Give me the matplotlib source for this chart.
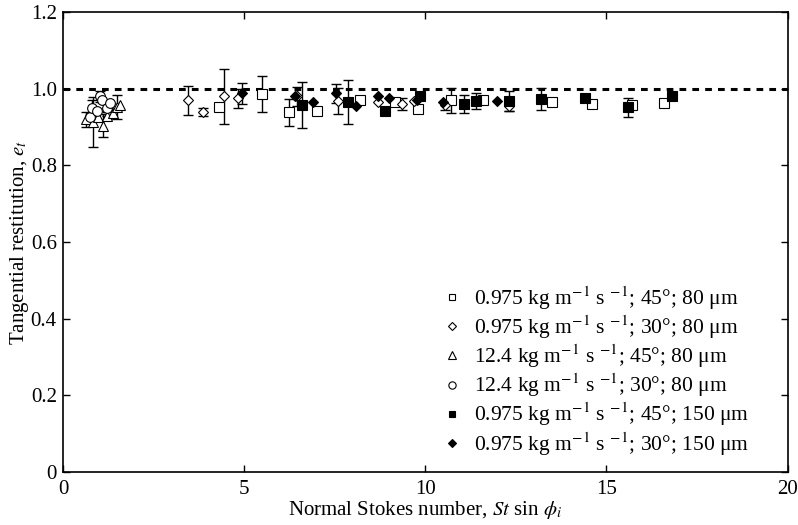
import numpy as np
import matplotlib
matplotlib.use("Agg")
from matplotlib import pyplot as plt

plt.rcParams['font.family'] = ['Liberation Serif', 'DejaVu Serif']
plt.rcParams['mathtext.fontset'] = 'stix'

# open squares: 0.975 kg/ms, 45 deg, 80 um
sq_open_x = [4.3, 5.5, 6.23, 7.0, 8.2, 9.16, 9.8, 10.7, 11.6, 13.5, 14.6, 15.7, 16.6]
sq_open_y = [0.952, 0.986, 0.939, 0.942, 0.970, 0.966, 0.947, 0.970, 0.970, 0.965, 0.960, 0.957, 0.962]
sq_open_e = [0, 0.047, 0.035, 0, 0, 0, 0, 0.033, 0, 0, 0.008, 0, 0]

# open diamonds: 0.975 kg/ms, 30 deg, 80 um
di_open_x = [3.45, 3.87, 4.45, 4.83, 6.45, 7.6, 8.7, 9.35, 9.7, 10.55, 12.3]
di_open_y = [0.970, 0.940, 0.980, 0.975, 0.980, 0.968, 0.965, 0.960, 0.968, 0.957, 0.955]
di_open_e = [0.038, 0.010, 0.072, 0.024, 0.024, 0.035, 0, 0.015, 0, 0.012, 0.012]

# open triangles: 12.4 kg/ms, 45 deg, 80 um
tri_x = [0.63, 0.83, 0.97, 1.1, 1.2, 1.38, 1.5, 1.57]
tri_y = [0.920, 0.913, 0.926, 0.903, 0.930, 0.936, 0.952, 0.957]
tri_e = [0.02, 0.065, 0, 0.03, 0.01, 0.012, 0.032, 0]

# open circles: 12.4 kg/ms, 30 deg, 80 um
ci_x = [0.75, 0.8, 0.93, 1.02, 1.07, 1.2, 1.3]
ci_y = [0.926, 0.950, 0.942, 0.980, 0.970, 0.950, 0.963]
ci_e = [0, 0.02, 0, 0.015, 0, 0.02, 0]

# filled squares: 0.975 kg/ms, 45 deg, 150 um
sq_fill_x = [6.6, 7.87, 8.9, 9.85, 11.06, 11.4, 12.3, 13.2, 14.4, 15.6, 16.8]
sq_fill_y = [0.957, 0.965, 0.942, 0.980, 0.960, 0.968, 0.968, 0.973, 0.976, 0.952, 0.980]
sq_fill_e = [0.06, 0.058, 0, 0, 0.023, 0.02, 0.025, 0.029, 0, 0.025, 0]

# filled diamonds: 0.975 kg/ms, 30 deg, 150 um
di_fill_x = [4.94, 6.4, 6.9, 7.53, 8.08, 8.7, 9.0, 9.77, 10.5, 11.97]
di_fill_y = [0.988, 0.980, 0.966, 0.988, 0.955, 0.980, 0.977, 0.970, 0.966, 0.968]
di_fill_e = [0.027, 0, 0, 0.025, 0, 0, 0, 0, 0, 0]

labels = [
    r'0.975 kg m$^{-1}$ s $^{-1}$; 45°; 80 μm',
    r'0.975 kg m$^{-1}$ s $^{-1}$; 30°; 80 μm',
    r'12.4 kg m$^{-1}$ s $^{-1}$; 45°; 80 μm',
    r'12.4 kg m$^{-1}$ s $^{-1}$; 30°; 80 μm',
    r'0.975 kg m$^{-1}$ s $^{-1}$; 45°; 150 μm',
    r'0.975 kg m$^{-1}$ s $^{-1}$; 30°; 150 μm',
]

series = [
    (sq_open_x, sq_open_y, sq_open_e, 's', 'white', 6.5),
    (di_open_x, di_open_y, di_open_e, 'D', 'white', 5.5),
    (tri_x, tri_y, tri_e, '^', 'white', 7),
    (ci_x, ci_y, ci_e, 'o', 'white', 7),
    (sq_fill_x, sq_fill_y, sq_fill_e, 's', 'black', 6.5),
    (di_fill_x, di_fill_y, di_fill_e, 'D', 'black', 5.5),
]

fig = plt.figure(figsize=(7.98, 5.25), dpi=100)
ax = fig.add_axes([0.079, 0.101, 0.908, 0.876])

ax.axhline(1.0, color='black', lw=2.2, linestyle=(0, (2.2, 2.0)), zorder=1)

handles = []
for (x, y, e, m, fc, ms), lab in zip(series, labels):
    x = np.array(x); y = np.array(y); e = np.array(e)
    k = e > 0
    ax.errorbar(x[k], y[k], yerr=e[k], fmt='none', ecolor='black',
                elinewidth=1, capsize=3.5, capthick=1, zorder=2)
    h, = ax.plot(x, y, ls='none', marker=m, ms=ms, mfc=fc, mec='black',
                 mew=0.8, label=lab, zorder=3)
    handles.append(h)

ax.legend(handles=handles, loc='upper left', bbox_to_anchor=(0.5276, 0.4087),
          frameon=False, fontsize=15.5, markerscale=0.75, handlelength=0.6,
          handletextpad=0.75, labelspacing=0.08, borderaxespad=0, borderpad=0)

ax.set_xlim(0, 20)
ax.set_ylim(0, 1.2)
ax.set_xticks([0, 5, 10, 15, 20])
ax.set_yticks([0, 0.2, 0.4, 0.6, 0.8, 1.0, 1.2])
ax.set_yticklabels(['0', '0.2', '0.4', '0.6', '0.8', '1.0', '1.2'])
ax.tick_params(direction='in', top=True, right=True, labelsize=15, length=5,
               width=1)
ax.tick_params(axis='x', pad=6)
ax.tick_params(axis='y', pad=4.5)
for s in ax.spines.values():
    s.set_linewidth(1.2)

ax.set_xlabel(r'Normal Stokes number, $St$ sin $\phi_i$', fontsize=15, labelpad=0)
ax.set_ylabel(r'Tangential restitution, $e_t$', fontsize=15, labelpad=0)

fig.savefig('out.png', dpi=100)
